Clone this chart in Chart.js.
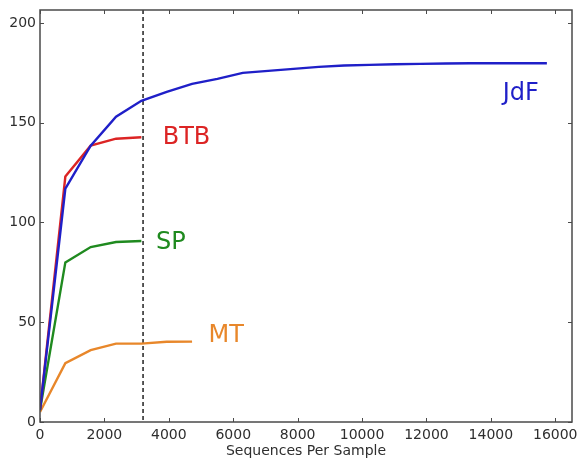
<!DOCTYPE html>
<html>
<head>
<meta charset="utf-8">
<script src="https://cdn.jsdelivr.net/npm/chart.js@4"></script>
<style>
  html, body { margin: 0; padding: 0; background: #fff; }
  #wrap { width: 579px; height: 464px; }
</style>
</head>
<body>
<div id="wrap"><canvas id="chart"></canvas></div>
<script>
// sequences per sample at each rarefaction step
const depths = [0, 787, 1574, 2361, 3148, 3935, 4722, 5509, 6296, 7083, 7870,
  8657, 9444, 10231, 11018, 11805, 12592, 13379, 14166, 14953, 15740];

// observed OTUs per site
const jdf = [6, 117, 138.5, 153, 161, 165.5, 169.5, 172, 175, 176, 177,
  178, 178.7, 179, 179.3, 179.5, 179.7, 179.8, 179.8, 179.8, 179.8];
const btb = [6, 123, 138.5, 142, 142.7];
const sp = [6, 80, 87.7, 90.2, 90.7];
const mt = [5, 29.5, 36, 39.3, 39.3, 40.2, 40.3];

const xTicks = [0, 2000, 4000, 6000, 8000, 10000, 12000, 14000, 16000];
const yTicks = [0, 50, 100, 150, 200];
const cutoff = 3200; // dashed marker

// name, colour, label anchor (left edge, vertical centre) in data units
const sites = [
  { name: 'JdF', values: jdf, color: '#1f1fc8', at: [14370, 164.5] },
  { name: 'BTB', values: btb, color: '#dc2424', at: [3810, 142.5] },
  { name: 'SP', values: sp, color: '#1f8a1f', at: [3600, 90] },
  { name: 'MT', values: mt, color: '#e8872a', at: [5230, 43] },
];

const FONT = '"DejaVu Sans", sans-serif';
const INK = '#2e2e2e';

const datasets = sites.map(s => ({
  label: s.name,
  data: s.values.map((v, i) => ({ x: depths[i], y: v })),
  borderColor: s.color,
  borderWidth: 2.4,
  pointRadius: 0,
  tension: 0,
  fill: false,
}));

function keepTicks(list) {
  return function(scale) {
    scale.ticks = list.map(v => ({ value: v }));
  };
}

// frame, inward ticks on all four sides, cutoff line and site names
const decorations = {
  id: 'decorations',
  beforeDatasetsDraw(chart) {
    const { ctx, chartArea: a, scales: { x } } = chart;
    const px = x.getPixelForValue(cutoff);
    ctx.save();
    ctx.strokeStyle = '#222';
    ctx.lineWidth = 1.5;
    ctx.setLineDash([4, 3]);
    ctx.beginPath();
    ctx.moveTo(px, a.top);
    ctx.lineTo(px, a.bottom);
    ctx.stroke();
    ctx.restore();
  },
  afterDraw(chart) {
    const { ctx, chartArea: a, scales: { x, y } } = chart;
    ctx.save();
    ctx.strokeStyle = '#4a4a4a';
    ctx.lineWidth = 1.5;
    ctx.strokeRect(a.left, a.top, a.right - a.left, a.bottom - a.top);

    const len = 4;
    ctx.lineWidth = 1;
    ctx.beginPath();
    xTicks.forEach(v => {
      const px = Math.round(x.getPixelForValue(v)) + 0.5;
      ctx.moveTo(px, a.bottom); ctx.lineTo(px, a.bottom - len);
      ctx.moveTo(px, a.top); ctx.lineTo(px, a.top + len);
    });
    yTicks.forEach(v => {
      const py = Math.round(y.getPixelForValue(v)) + 0.5;
      ctx.moveTo(a.left, py); ctx.lineTo(a.left + len, py);
      ctx.moveTo(a.right, py); ctx.lineTo(a.right - len, py);
    });
    ctx.stroke();

    ctx.font = '24px ' + FONT;
    ctx.textAlign = 'left';
    ctx.textBaseline = 'middle';
    sites.forEach(s => {
      ctx.fillStyle = s.color;
      ctx.fillText(s.name, x.getPixelForValue(s.at[0]), y.getPixelForValue(s.at[1]));
    });
    ctx.restore();
  },
};

const plain = value => String(value);

new Chart(document.getElementById('chart'), {
  type: 'line',
  data: { datasets },
  plugins: [decorations],
  options: {
    responsive: true,
    maintainAspectRatio: false,
    animation: false,
    layout: { padding: { top: 10, right: 7, left: 0, bottom: 0 } },
    plugins: { legend: { display: false }, tooltip: { enabled: false } },
    scales: {
      x: {
        type: 'linear',
        min: 0,
        max: 16520,
        afterBuildTicks: keepTicks(xTicks),
        afterFit(scale) {
          scale.height = 42;
          scale.paddingLeft = 0;
          scale.paddingRight = 0;
        },
        grid: { display: false, drawTicks: false },
        border: { display: false },
        ticks: { color: INK, font: { family: FONT, size: 14 }, padding: 5, maxRotation: 0, callback: plain },
        title: {
          display: true,
          text: 'Sequences Per Sample',
          color: INK,
          font: { family: FONT, size: 14 },
          padding: { top: 0, bottom: 4 },
        },
      },
      y: {
        min: 0,
        max: 206.5,
        afterBuildTicks: keepTicks(yTicks),
        afterFit(scale) {
          scale.width = 40;
          scale.paddingTop = 0;
          scale.paddingBottom = 0;
        },
        grid: { display: false, drawTicks: false },
        border: { display: false },
        ticks: { color: INK, font: { family: FONT, size: 14 }, padding: 4, callback: plain },
      },
    },
  },
});
</script>
</body>
</html>
